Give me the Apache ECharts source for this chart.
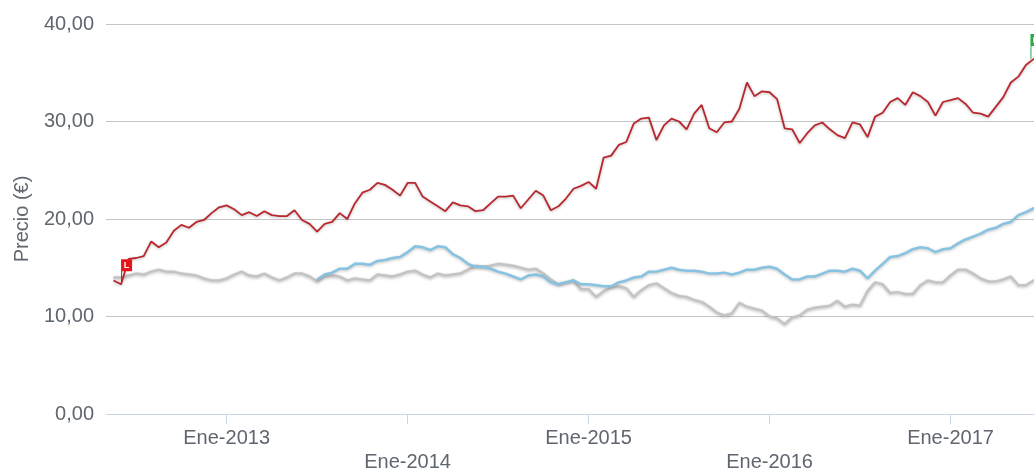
<!DOCTYPE html>
<html>
<head>
<meta charset="utf-8">
<script src="https://cdn.jsdelivr.net/npm/echarts@6/dist/echarts.min.js"></script>
<style>
  html, body { margin: 0; padding: 0; background: #fff; }
  #main { width: 1034px; height: 470px; }
</style>
</head>
<body>
<div id="main"></div>
<script>
var chartDom = document.getElementById('main');
var myChart = echarts.init(chartDom);
var option;

// fechas cada medio mes
const categories = [
  '2012-05-01','2012-05-15','2012-06-01','2012-06-15','2012-07-01','2012-07-15','2012-08-01','2012-08-15',
  '2012-09-01','2012-09-15','2012-10-01','2012-10-15','2012-11-01','2012-11-15','2012-12-01','2012-12-15',
  '2013-01-01','2013-01-15','2013-02-01','2013-02-15','2013-03-01','2013-03-15','2013-04-01','2013-04-15',
  '2013-05-01','2013-05-15','2013-06-01','2013-06-15','2013-07-01','2013-07-15','2013-08-01','2013-08-15',
  '2013-09-01','2013-09-15','2013-10-01','2013-10-15','2013-11-01','2013-11-15','2013-12-01','2013-12-15',
  '2014-01-01','2014-01-15','2014-02-01','2014-02-15','2014-03-01','2014-03-15','2014-04-01','2014-04-15',
  '2014-05-01','2014-05-15','2014-06-01','2014-06-15','2014-07-01','2014-07-15','2014-08-01','2014-08-15',
  '2014-09-01','2014-09-15','2014-10-01','2014-10-15','2014-11-01','2014-11-15','2014-12-01','2014-12-15',
  '2015-01-01','2015-01-15','2015-02-01','2015-02-15','2015-03-01','2015-03-15','2015-04-01','2015-04-15',
  '2015-05-01','2015-05-15','2015-06-01','2015-06-15','2015-07-01','2015-07-15','2015-08-01','2015-08-15',
  '2015-09-01','2015-09-15','2015-10-01','2015-10-15','2015-11-01','2015-11-15','2015-12-01','2015-12-15',
  '2016-01-01','2016-01-15','2016-02-01','2016-02-15','2016-03-01','2016-03-15','2016-04-01','2016-04-15',
  '2016-05-01','2016-05-15','2016-06-01','2016-06-15','2016-07-01','2016-07-15','2016-08-01','2016-08-15',
  '2016-09-01','2016-09-15','2016-10-01','2016-10-15','2016-11-01','2016-11-15','2016-12-01','2016-12-15',
  '2017-01-01','2017-01-15','2017-02-01','2017-02-15','2017-03-01','2017-03-15','2017-04-01','2017-04-15',
  '2017-05-01','2017-05-15','2017-06-01','2017-06-15','2017-07-01'
];

const redValues = [
  null,13.7,13.3,15.9,16.0,16.2,17.7,17.1,17.6,18.8,
  19.4,19.1,19.7,19.9,20.6,21.2,21.4,21.0,20.4,20.7,
  20.3,20.8,20.4,20.3,20.3,20.9,19.9,19.5,18.7,19.5,
  19.7,20.6,20.0,21.6,22.7,23.0,23.7,23.5,23.0,22.4,
  23.7,23.7,22.3,21.8,21.3,20.8,21.7,21.4,21.3,20.8,
  20.9,21.6,22.3,22.3,22.4,21.1,22.0,22.9,22.4,20.9,
  21.3,22.1,23.1,23.4,23.8,23.1,26.3,26.5,27.6,27.9,
  29.8,30.3,30.4,28.1,29.6,30.3,30.0,29.2,30.8,31.7,
  29.3,28.9,29.9,30.0,31.3,34.0,32.6,33.1,33.0,32.3,
  29.3,29.2,27.8,28.8,29.6,29.9,29.2,28.6,28.3,29.9,
  29.7,28.4,30.5,30.9,32.0,32.4,31.7,33.0,32.6,32.0,
  30.6,32.0,32.2,32.4,31.8,30.9,30.8,30.5,31.5,32.5,
  34.0,34.6,35.8,36.4,36.6
];

const blueValues = [
  null,null,null,null,null,null,null,null,null,null,
  null,null,null,null,null,null,null,null,null,null,
  null,null,null,null,null,null,null,null,
  13.8,14.3,14.5,14.9,14.9,15.4,15.4,15.3,15.7,15.8,
  16.0,16.1,16.6,17.2,17.1,16.8,17.2,17.1,16.4,16.0,
  15.4,15.1,15.1,14.9,14.6,14.4,14.1,13.8,14.2,14.3,
  14.1,13.5,13.3,13.5,13.7,13.3,13.3,13.2,13.1,13.1,
  13.5,13.7,14.0,14.1,14.6,14.6,14.8,15.0,14.8,14.7,
  14.7,14.6,14.4,14.4,14.5,14.3,14.5,14.8,14.8,15.0,
  15.1,14.9,14.3,13.8,13.8,14.1,14.1,14.4,14.7,14.7,
  14.6,14.9,14.7,13.9,14.7,15.4,16.1,16.2,16.5,16.9,
  17.1,17.0,16.6,16.9,17.0,17.5,17.9,18.2,18.5,18.9,
  19.1,19.5,19.7,20.4,20.7,21.1,21.4
];

const greyValues = [
  null,14.0,14.0,14.2,14.4,14.3,14.6,14.8,14.6,14.6,
  14.4,14.3,14.2,13.9,13.7,13.7,13.9,14.3,14.6,14.2,
  14.1,14.4,14.0,13.7,14.0,14.4,14.4,14.1,13.6,14.1,
  14.2,14.1,13.7,13.9,13.8,13.7,14.3,14.2,14.1,14.3,
  14.6,14.7,14.3,14.0,14.4,14.2,14.3,14.4,14.8,15.2,
  15.1,15.2,15.4,15.3,15.2,15.0,14.8,14.9,14.4,13.8,
  13.3,13.5,13.7,12.8,12.8,12.0,12.6,13.0,13.1,12.9,
  12.0,12.7,13.2,13.4,12.9,12.4,12.1,12.0,11.7,11.5,
  11.0,10.4,10.1,10.3,11.4,11.0,10.8,10.6,10.0,9.8,
  9.2,9.9,10.1,10.7,10.9,11.0,11.1,11.6,11.0,11.2,
  11.1,12.6,13.5,13.3,12.4,12.5,12.3,12.3,13.2,13.7,
  13.5,13.5,14.2,14.8,14.8,14.4,13.9,13.6,13.6,13.8,
  14.1,13.2,13.2,13.7,13.7
];

// banderas: minimo (L) y maximo (H)
const lowIndex = 2;
const highIndex = 123;

const flagPath = 'path://M0,0H11V12H1V25H0Z';
const textColor = '#5f6670';
const fontFamily = '"Liberation Sans", Arial, sans-serif';

function isJanuary(index, value) {
  return value.slice(5) === '01-01';
}

function flag(idx, value, color, text, dx) {
  return {
    coord: [categories[idx], value],
    symbol: flagPath,
    symbolSize: [11, 25],
    symbolOffset: [5.5 + dx, -12.5],
    itemStyle: { color: color },
    label: {
      show: true,
      formatter: text,
      position: 'inside',
      offset: [0, -6.5],
      color: '#fff',
      fontSize: 9,
      fontWeight: 'bold',
      fontFamily: fontFamily
    }
  };
}

const lineShadow = { shadowBlur: 3, shadowColor: 'rgba(0,0,0,0.25)', shadowOffsetY: 1 };

option = {
  animation: false,
  backgroundColor: '#fff',
  grid: { left: 106, right: -7, top: 24, bottom: 56, outerBoundsMode: 'none' },
  xAxis: {
    type: 'category',
    data: categories,
    boundaryGap: false,
    axisLine: { lineStyle: { color: '#ccd6eb' } },
    axisTick: { interval: isJanuary, length: 10, lineStyle: { color: '#ccd6eb' } },
    axisLabel: {
      interval: isJanuary,
      margin: 12,
      color: textColor,
      fontSize: 20,
      lineHeight: 24,
      fontFamily: fontFamily,
      formatter: function (value) {
        var y = value.slice(0, 4);
        return (y % 2 === 0 ? '\n' : '') + 'Ene-' + y;
      }
    },
    splitLine: { show: false }
  },
  yAxis: {
    type: 'value',
    min: 0,
    max: 40,
    interval: 10,
    name: 'Precio (€)',
    nameLocation: 'middle',
    nameGap: 74,
    nameTextStyle: { color: textColor, fontSize: 20, fontFamily: fontFamily },
    axisLine: { show: false },
    axisTick: { show: false },
    axisLabel: {
      margin: 12,
      color: textColor,
      fontSize: 20,
      fontFamily: fontFamily,
      padding: [4, 0, 0, 0],
      formatter: function (v) { return v.toFixed(2).replace('.', ','); }
    },
    splitLine: { lineStyle: { color: '#c6c6c6', width: 1 } }
  },
  series: [
    {
      name: 'Gris',
      type: 'line',
      data: greyValues,
      showSymbol: false,
      lineStyle: Object.assign({ color: '#c4c4c4', width: 2.5 }, lineShadow),
      itemStyle: { color: '#c4c4c4' },
      z: 2
    },
    {
      name: 'Azul',
      type: 'line',
      data: blueValues,
      showSymbol: false,
      lineStyle: Object.assign({ color: '#86c3e3', width: 2.5 }, lineShadow),
      itemStyle: { color: '#86c3e3' },
      z: 3
    },
    {
      name: 'Rojo',
      type: 'line',
      data: redValues,
      showSymbol: false,
      lineStyle: Object.assign({ color: '#b8282e', width: 1.8 }, lineShadow),
      itemStyle: { color: '#b8282e' },
      z: 4,
      markPoint: {
        silent: true,
        data: [
          flag(lowIndex, redValues[lowIndex], '#e8141b', 'L', 0),
          flag(highIndex, redValues[highIndex], '#2aa84a', 'H', -3)
        ]
      }
    }
  ]
};

myChart.setOption(option);
</script>
</body>
</html>
